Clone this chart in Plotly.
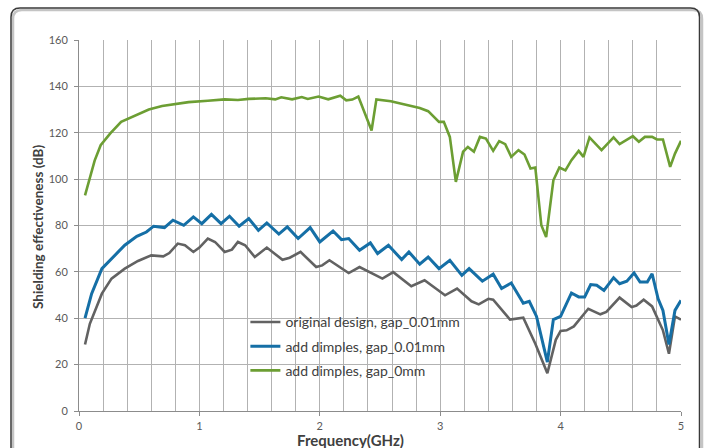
import plotly.graph_objects as go

# ---- data ----
gray_f = [0.05, 0.09, 0.19, 0.27, 0.38, 0.49, 0.60, 0.70, 0.75, 0.82, 0.88, 0.95, 1.00, 1.07, 1.13,
          1.21, 1.27, 1.32, 1.38, 1.46, 1.56, 1.69, 1.75, 1.84, 1.97, 2.02, 2.08, 2.24, 2.33, 2.52,
          2.61, 2.76, 2.87, 3.04, 3.14, 3.26, 3.32, 3.40, 3.44, 3.58, 3.69, 3.79, 3.89, 3.96, 4.00,
          4.05, 4.11, 4.23, 4.33, 4.38, 4.49, 4.59, 4.63, 4.69, 4.76, 4.85, 4.90, 4.95, 5.00]
gray_db = [28.7, 37.6, 50.6, 57.1, 61.4, 64.7, 67.1, 66.7, 68.1, 72.2, 71.5, 68.6, 70.5, 74.4, 72.9,
           68.6, 69.6, 72.9, 71.5, 66.4, 70.5, 65.2, 66.1, 68.6, 62.1, 62.8, 65.0, 59.5, 62.1, 57.1,
           59.9, 53.8, 56.4, 49.9, 52.8, 47.3, 46.0, 48.4, 48.0, 39.4, 40.2, 29.0, 16.3, 30.7, 34.5,
           34.8, 36.5, 44.1, 41.7, 42.7, 48.9, 44.8, 45.5, 48.0, 45.1, 34.8, 24.7, 40.8, 39.4]

blue_f = [0.05, 0.105, 0.19, 0.27, 0.38, 0.48, 0.56, 0.62, 0.71, 0.78, 0.87, 0.95, 1.02, 1.10, 1.18,
          1.25, 1.33, 1.41, 1.49, 1.56, 1.66, 1.73, 1.82, 1.92, 2.00, 2.11, 2.18, 2.24, 2.33, 2.42,
          2.48, 2.57, 2.68, 2.74, 2.83, 2.90, 2.99, 3.08, 3.18, 3.24, 3.35, 3.44, 3.51, 3.59, 3.69,
          3.74, 3.80, 3.89, 3.94, 4.00, 4.09, 4.15, 4.20, 4.25, 4.30, 4.36, 4.44, 4.49, 4.55, 4.61,
          4.66, 4.72, 4.76, 4.81, 4.85, 4.90, 4.95, 5.00]
blue_db = [40.1, 50.6, 61.4, 65.7, 71.5, 75.3, 77.2, 79.7, 79.1, 82.3, 80.1, 83.7, 80.8, 84.8, 80.8,
           84.0, 79.7, 83.0, 77.9, 81.1, 76.3, 79.4, 74.4, 79.1, 72.9, 77.6, 73.9, 74.4, 69.3, 72.5,
           67.9, 71.5, 65.3, 68.6, 63.3, 66.4, 61.4, 65.0, 58.5, 61.4, 56.0, 59.0, 52.8, 55.2, 46.5,
           47.3, 40.8, 21.1, 39.4, 40.8, 50.9, 49.2, 49.2, 54.5, 54.2, 52.0, 57.5, 54.9, 56.0, 59.5,
           55.6, 55.6, 59.2, 48.4, 43.4, 28.7, 43.4, 47.7]

green_f = [0.05, 0.09, 0.13, 0.18, 0.26, 0.35, 0.47, 0.58, 0.69, 0.80, 0.91, 1.07, 1.21, 1.32, 1.41,
           1.55, 1.63, 1.68, 1.77, 1.85, 1.90, 1.99, 2.07, 2.17, 2.22, 2.27, 2.32, 2.43, 2.47, 2.59,
           2.72, 2.83, 2.90, 2.99, 3.03, 3.08, 3.13, 3.19, 3.23, 3.28, 3.33, 3.38, 3.44, 3.49, 3.54,
           3.59, 3.65, 3.70, 3.75, 3.79, 3.84, 3.88, 3.94, 3.99, 4.04, 4.09, 4.15, 4.19, 4.24, 4.34,
           4.44, 4.49, 4.60, 4.65, 4.70, 4.76, 4.80, 4.85, 4.91, 4.95, 5.00]
green_db = [93.0, 101.0, 108.0, 114.6, 119.7, 124.7, 127.6, 130.0, 131.5, 132.3, 133.2, 133.8, 134.4, 134.1, 134.6,
            134.9, 134.4, 135.3, 134.4, 135.4, 134.6, 135.6, 134.4, 136.0, 134.0, 134.3, 135.6, 121.0, 134.4, 133.6,
            131.9, 130.7, 129.3, 124.7, 124.7, 118.2, 98.8, 111.8, 113.9, 111.8, 118.2, 117.5, 112.2, 116.4, 115.1,
            109.6, 112.5, 110.6, 104.6, 105.0, 80.1, 75.0, 99.5, 105.0, 103.8, 108.2, 112.2, 109.6, 118.0, 112.5,
            118.0, 115.1, 118.5, 116.1, 118.2, 118.2, 117.1, 117.1, 105.3, 111.0, 116.5]

series_names = ["original design, gap_0.01mm", "add dimples, gap_0.01mm", "add dimples, gap_0mm"]
series_colors = ["#626262", "#156FA6", "#6C9E33"]

x_ticks = [0, 1, 2, 3, 4, 5]
y_ticks = [0, 20, 40, 60, 80, 100, 120, 140, 160]

x_title = "Frequency(GHz)"
y_title = "Shielding effectiveness (dB)"

FONT = "Lato, 'Open Sans', sans-serif"

fig = go.Figure()
for i, (fx, fy) in enumerate([(gray_f, gray_db), (blue_f, blue_db), (green_f, green_db)]):
    fig.add_trace(go.Scatter(
        x=fx, y=fy, mode="lines", name=series_names[i],
        line=dict(color=series_colors[i], width=3 if i == 1 else 2.6),
        legendgroup=str(i),
    ))

# page / plot geometry
W, H = 706, 448
ML, MR, MT, MB = 79, 25, 40, 37
pw, ph = W - ML - MR, H - MT - MB


def px(x):
    return (x - ML) / pw


def py(y):
    return (H - MB - y) / ph


def frame_path(l, t, r, b, rad):
    return (f"M {px(l)},{py(b)} L {px(l)},{py(t + rad)} Q {px(l)},{py(t)} {px(l + rad)},{py(t)} "
            f"L {px(r - rad)},{py(t)} Q {px(r)},{py(t)} {px(r)},{py(t + rad)} L {px(r)},{py(b)}")


shapes = [
    dict(type="path", xref="paper", yref="paper", path=frame_path(13, 10, 702, 470, 9),
         line=dict(color="#c4c4c4", width=2.5), layer="below"),
    dict(type="path", xref="paper", yref="paper", path=frame_path(11, 8, 699.5, 470, 9),
         line=dict(color="#3a3a3a", width=1.5), layer="below"),
]

annotations = [
    dict(text=f"<b>{x_title}</b>", xref="paper", yref="paper", x=px(350), y=py(439.5),
         xanchor="center", yanchor="middle", showarrow=False,
         font=dict(family=FONT, size=15, color="#404040")),
    dict(text=f"<b>{y_title}</b>", xref="paper", yref="paper", x=px(38), y=py(227),
         xanchor="center", yanchor="middle", showarrow=False, textangle=-90,
         font=dict(family=FONT, size=13.5, color="#404040")),
]

fig.update_layout(
    width=W, height=H,
    margin=dict(l=ML, r=MR, t=MT, b=MB, autoexpand=False),
    paper_bgcolor="white", plot_bgcolor="white",
    font=dict(family=FONT, color="#595959", size=11),
    shapes=shapes,
    annotations=annotations,
    showlegend=True,
    legend=dict(
        x=0.2764, y=0.282, xanchor="left", yanchor="top",
        bgcolor="rgba(0,0,0,0)", borderwidth=0,
        font=dict(family=FONT, size=14, color="#404040"),
        tracegroupgap=3,
    ),
    xaxis=dict(
        range=[0, 5], tickvals=x_ticks, ticktext=[str(v) for v in x_ticks],
        showgrid=True, gridcolor="#b2b2b2", gridwidth=1,
        minor=dict(dtick=0.2, showgrid=True, gridcolor="#b2b2b2", gridwidth=1),
        showline=True, linecolor="#8c8c8c", linewidth=1,
        ticks="outside", ticklen=4, tickcolor="#8c8c8c", ticklabelstandoff=1,
        zeroline=False, automargin=False,
    ),
    yaxis=dict(
        range=[0, 160], tickvals=y_ticks, ticktext=[str(v) for v in y_ticks],
        showgrid=True, gridcolor="#b2b2b2", gridwidth=1,
        showline=True, linecolor="#8c8c8c", linewidth=1,
        ticks="outside", ticklen=4, tickcolor="#8c8c8c", ticklabelstandoff=4,
        zeroline=False, automargin=False,
    ),
)

fig.write_html(
    "out.html",
    config={"displayModeBar": False},
    post_script="document.body.style.margin='0';document.body.style.overflow='hidden';",
)
